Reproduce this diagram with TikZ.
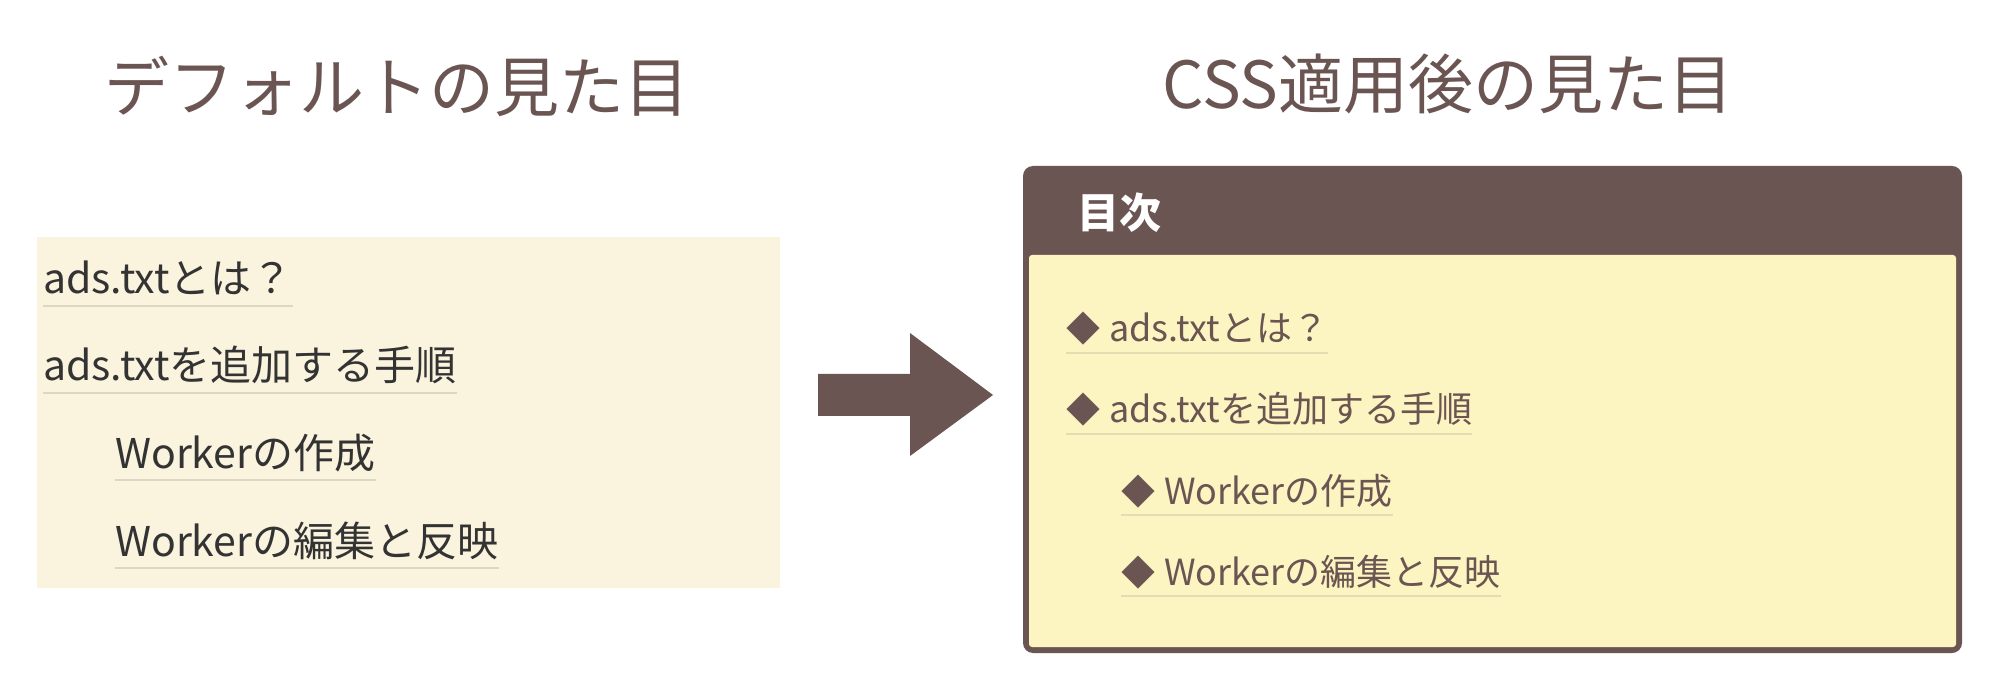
\documentclass[tikz,border=0pt]{standalone}
\usepackage{fontspec}
\setmainfont{Noto Sans CJK JP}
\definecolor{brn}{HTML}{6B5553}
\definecolor{cream}{HTML}{FAF3DE}
\definecolor{yel}{HTML}{FDF5C1}
\definecolor{ulLc}{HTML}{DDD6C5}
\definecolor{ulRc}{HTML}{E6DCB2}
\definecolor{txt}{HTML}{333333}
\newcommand{\dmd}{{\fontsize{34}{40}\selectfont ◆}\kern9pt }
\begin{document}
\begin{tikzpicture}[x=1pt,y=-1pt,
  titletext/.style={anchor=center,inner sep=0pt,text=brn,font=\fontsize{65}{72}\selectfont},
  litem/.style={anchor=base west,inner sep=0pt,text=txt,font=\fontsize{41}{48}\selectfont},
  ritem/.style={anchor=base west,inner sep=0pt,text=brn,font=\fontsize{36}{42}\selectfont},
  lline/.style={draw=ulLc,line width=2.5pt},
  rline/.style={draw=ulRc,line width=2.5pt},
  bigarrow/.style={fill=brn}]
\useasboundingbox (0,0) rectangle (2000,692);
\fill[white] (0,0) rectangle (2000,692);

% titles
\node[titletext] (t1) at (397,86) {デフォルトの見た目};
\node[titletext] (t2) at (1448,84) {CSS適用後の見た目};

% left box
\node[fill=cream,anchor=north west,inner sep=0pt,minimum width=743pt,minimum height=351pt] (lbox) at (37,237) {};
\node[litem] (l1) at (43,294) {ads.txtとは？};
\node[litem] (l2) at (43,381) {ads.txtを追加する手順};
\node[litem] (l3) at (115,468) {Workerの作成};
\node[litem] (l4) at (115,556) {Workerの編集と反映};
\foreach \n in {l1,l2,l3,l4}
  \draw[lline] ([yshift=-12pt]\n.base west) -- ([yshift=-12pt]\n.base east);

% arrow
\fill[bigarrow] (818,374) -- (910,374) -- (910,333) -- (993,395) -- (910,456) -- (910,416) -- (818,416) -- cycle;

% right box
\fill[brn,rounded corners=10pt] (1023,166) rectangle (1962,653);
\fill[yel,rounded corners=3pt] (1029,255) rectangle (1956,647);
\node[anchor=west,inner sep=0pt,text=white,font=\fontsize{42}{48}\selectfont\bfseries] (hd) at (1077,213) {目次};

\node[ritem] (r1) at (1066,342) {\dmd ads.txtとは？};
\node[ritem] (r2) at (1066,423) {\dmd ads.txtを追加する手順};
\node[ritem] (r3) at (1121,504) {\dmd Workerの作成};
\node[ritem] (r4) at (1121,585) {\dmd Workerの編集と反映};
\foreach \n in {r1,r2,r3,r4}
  \draw[rline] ([yshift=-11pt]\n.base west) -- ([yshift=-11pt]\n.base east);
\end{tikzpicture}
\end{document}
